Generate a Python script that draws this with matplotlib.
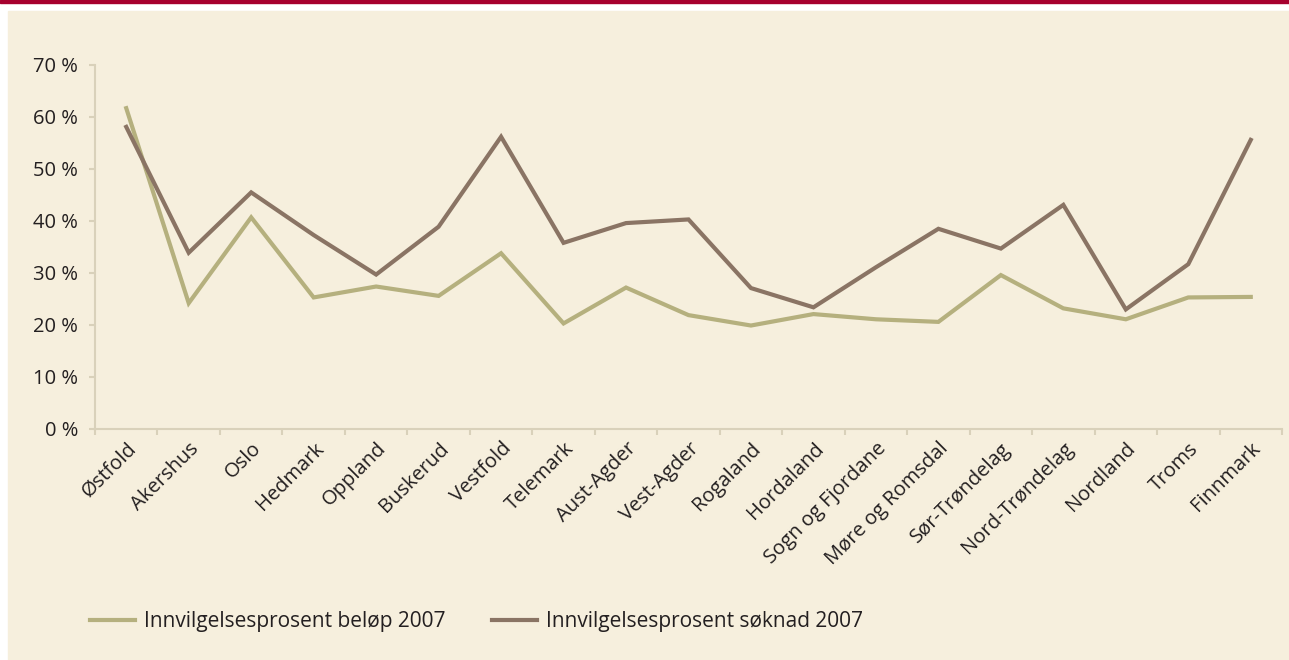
import matplotlib.pyplot as plt
from matplotlib.patches import Rectangle
from matplotlib.ticker import FuncFormatter

plt.rcParams['font.family'] = ['Open Sans', 'DejaVu Sans']

fylker = ['Østfold', 'Akershus', 'Oslo', 'Hedmark', 'Oppland', 'Buskerud', 'Vestfold',
          'Telemark', 'Aust-Agder', 'Vest-Agder', 'Rogaland', 'Hordaland',
          'Sogn og Fjordane', 'Møre og Romsdal', 'Sør-Trøndelag', 'Nord-Trøndelag',
          'Nordland', 'Troms', 'Finnmark']

belop_2007 = [61.7, 24.2, 40.7, 25.3, 27.4, 25.6, 33.8, 20.3, 27.2, 21.9,
              19.9, 22.1, 21.1, 20.6, 29.6, 23.2, 21.1, 25.3, 25.4]
soknad_2007 = [58.1, 33.9, 45.5, 37.3, 29.7, 38.9, 56.2, 35.8, 39.6, 40.3,
               27.1, 23.4, 31.1, 38.5, 34.7, 43.1, 23.0, 31.7, 55.6]

bg = '#f6efdd'
axis_col = '#d9d1ba'
text_col = '#231f20'
fs = 14.5

fig = plt.figure(figsize=(12.89, 6.60), dpi=100)
fig.patch.set_facecolor('white')

# red band on top and beige panel
fig.patches.append(Rectangle((0, 1 - 3/660), 1, 3/660, transform=fig.transFigure,
                             color='#a6002e', zorder=-2))
fig.patches.append(Rectangle((8/1289, 0), 1 - 8/1289, 1 - 11/660, transform=fig.transFigure,
                             color=bg, zorder=-2))

ax = fig.add_axes([95/1289, 1 - 429/660, (1282 - 95)/1289, (429 - 65)/660])
ax.set_facecolor('none')
ax.set_zorder(2)

x = list(range(len(fylker)))
ax.plot(x, belop_2007, color='#b5b07e', lw=3.0, solid_joinstyle='miter',
        label='Innvilgelsesprosent beløp 2007')
ax.plot(x, soknad_2007, color='#8a7464', lw=3.0, solid_joinstyle='miter',
        label='Innvilgelsesprosent søknad 2007')

ax.set_xlim(-0.5, len(fylker) - 0.5)
ax.set_ylim(0, 70)
ax.set_yticks(range(0, 71, 10))
ax.yaxis.set_major_formatter(FuncFormatter(lambda v, p: '%d %%' % v))

ax.set_xticks(x)
ax.set_xticklabels(fylker, rotation=45, ha='right', va='top', rotation_mode='anchor')
ax.set_xticks([i - 0.5 for i in range(len(fylker) + 1)], minor=True)
ax.tick_params(axis='x', which='major', length=0, pad=7, labelsize=fs, labelcolor=text_col)
ax.tick_params(axis='x', which='minor', length=4, width=1.5, color=axis_col)
ax.tick_params(axis='y', length=4, width=1.5, color=axis_col, labelsize=fs,
               labelcolor=text_col, pad=8)

for s in ['top', 'right']:
    ax.spines[s].set_visible(False)
for s in ['left', 'bottom']:
    ax.spines[s].set_color(axis_col)
    ax.spines[s].set_linewidth(1.5)

fig.legend(loc='center left', bbox_to_anchor=(71/1289, 1 - 622/660), ncol=2,
           frameon=False, fontsize=15, handlelength=2.15, handletextpad=0.43,
           columnspacing=2.25, labelcolor=text_col)

fig.savefig('out.png', dpi=100)
